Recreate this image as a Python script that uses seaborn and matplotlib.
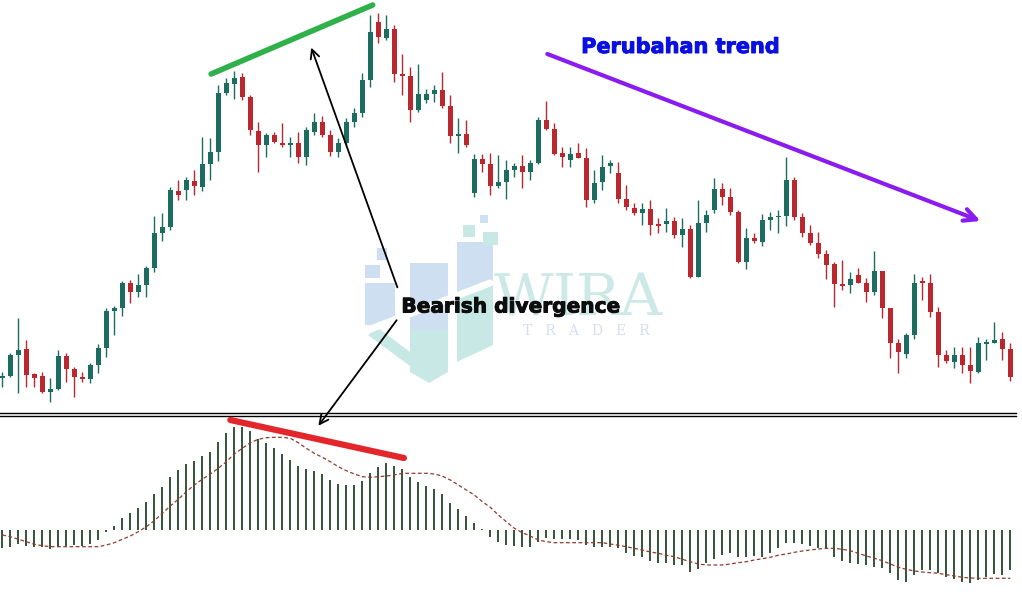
import numpy as np
import pandas as pd
import matplotlib
matplotlib.use("Agg")
import matplotlib.pyplot as plt
import matplotlib.patheffects as pe
import seaborn as sns
from matplotlib.patches import Polygon

# harga (poin) per candle
opens = [42, 44, 65, 71, 46, 44, 28, 31, 64, 51, 43, 41, 55, 72, 109, 112, 137, 128, 135, 152,
         187, 193, 229, 230, 239, 233, 256, 268, 327, 336, 343, 323, 289, 275, 285, 277, 275, 277, 263, 288,
         298, 285, 268, 277, 298, 307, 340, 398, 382, 391, 346, 344, 310, 320, 326, 330, 314, 284, 286, 227,
         261, 256, 234, 238, 250, 254, 248, 257, 300, 291, 267, 260, 267, 262, 220, 238, 254, 247, 221, 212,
         207, 211, 196, 196, 199, 185, 191, 143, 197, 210, 231, 223, 208, 158, 182, 178, 200, 203, 204, 240,
         203, 187, 177, 166, 156, 136, 135, 145, 137, 128, 149, 112, 77, 66, 85, 139, 137, 108, 65, 58,
         65, 55, 48, 76, 77, 81, 71]
highs = [48, 67, 102, 80, 47, 48, 42, 70, 67, 53, 48, 57, 76, 112, 114, 139, 140, 146, 154, 204,
         207, 233, 240, 243, 250, 283, 282, 335, 342, 349, 347, 325, 298, 287, 288, 297, 283, 288, 293, 307,
         304, 290, 282, 302, 312, 347, 405, 407, 405, 395, 366, 353, 356, 331, 335, 348, 325, 302, 300, 266,
         266, 267, 265, 260, 257, 265, 260, 303, 319, 297, 273, 273, 277, 272, 250, 265, 260, 258, 235, 217,
         217, 220, 202, 212, 203, 202, 195, 220, 210, 242, 237, 232, 210, 192, 187, 206, 208, 210, 263, 243,
         207, 195, 188, 170, 158, 160, 148, 152, 142, 169, 149, 112, 81, 87, 146, 143, 146, 113, 70, 73,
         73, 73, 83, 81, 98, 88, 77]
lows = [33, 43, 27, 33, 33, 27, 18, 30, 38, 23, 38, 37, 47, 63, 85, 104, 117, 123, 123, 148,
        179, 190, 220, 220, 225, 229, 240, 259, 325, 321, 320, 285, 248, 263, 277, 273, 263, 257, 255, 285,
        283, 264, 263, 275, 293, 303, 333, 377, 380, 338, 325, 298, 308, 317, 318, 312, 277, 267, 273, 223,
        248, 225, 232, 221, 243, 232, 240, 256, 290, 265, 253, 253, 262, 213, 217, 230, 247, 217, 210, 205,
        195, 185, 187, 188, 182, 173, 142, 143, 188, 207, 215, 205, 157, 151, 177, 174, 190, 187, 194, 200,
        183, 175, 162, 141, 113, 130, 127, 137, 118, 125, 102, 62, 47, 62, 81, 120, 103, 53, 57, 52,
        47, 37, 47, 60, 77, 60, 39]
closes = [44, 65, 70, 45, 42, 28, 31, 64, 51, 43, 41, 55, 72, 109, 112, 137, 128, 135, 152, 187,
          193, 230, 225, 240, 234, 256, 268, 327, 337, 342, 323, 290, 275, 285, 278, 275, 277, 263, 290, 298,
          285, 268, 277, 298, 307, 340, 388, 383, 391, 346, 344, 310, 326, 326, 330, 314, 284, 286, 275, 261,
          256, 234, 238, 250, 254, 248, 257, 300, 291, 266, 263, 266, 262, 220, 237, 253, 257, 221, 213, 207,
          211, 195, 194, 199, 185, 191, 143, 197, 205, 231, 223, 208, 158, 182, 179, 200, 203, 204, 240, 203,
          187, 177, 166, 155, 136, 134, 141, 137, 128, 149, 112, 77, 68, 85, 137, 137, 108, 65, 59, 65,
          55, 49, 77, 78, 80, 71, 43]

# MACD histogram dan garis sinyal
macd_hist = [-18.3, -16.7, -14, -16, -16.7, -16.7, -19.3, -16.7, -16, -15, -16, -14, -10, -1.7, 4, 11.7,
             16.7, 21.7, 28.3, 35.7, 42.7, 52.7, 60, 66, 69.3, 74, 77.7, 88.3, 96.7, 102.7, 103.3, 99,
             91, 86.7, 81.7, 76, 70, 64, 60.7, 59.3, 56, 50, 46, 45, 45, 49, 57.3, 63.3,
             67.3, 64, 60.7, 53.3, 48.3, 44, 40.7, 35.7, 27.3, 20.7, 14, 6.7, 0.7, -6.7, -11.7, -15,
             -16, -17.3, -17.3, -11.7, -8.3, -9.3, -9.3, -9.3, -10, -15, -16.7, -16.7, -16.7, -18.3, -22.7, -26,
             -27.3, -30.7, -32.7, -33.3, -35, -35, -41.7, -39.3, -33.3, -29.3, -25, -23.3, -27.3, -27.3, -26, -26.7,
             -22.7, -18.3, -12.7, -12.7, -14, -16, -18.3, -19.3, -26.7, -30.7, -32.7, -34, -35, -36.7, -38.3, -43.3,
             -50, -51.7, -45, -40, -40, -42.7, -46.7, -49.3, -51.7, -53.3, -50, -46.7, -44, -45, -40]
macd_signal = [-5, -6.7, -9.3, -11.7, -14.3, -15.7, -16.7, -16.7, -16.7, -16.7, -16.7, -16.7, -16.7, -15, -12.7, -9.3,
               -6, -1.7, 3.3, 9.3, 16.7, 24, 30.7, 38.3, 45, 50.7, 56, 61.7, 68.3, 76, 81.7, 87.3,
               90.7, 92.3, 92.7, 92.7, 91.7, 87.3, 81.7, 76.7, 72.7, 68.3, 63.3, 59.3, 56, 53.3, 52.7, 53.3,
               54, 55, 56.7, 56.7, 56.7, 56.7, 56, 54, 50, 45, 40, 35, 28.3, 22.7, 15, 8.3,
               1.7, -2.7, -6, -10, -11.7, -12.7, -12.7, -12.7, -12.7, -12.7, -12.7, -12.7, -14, -15.3, -16.7, -18.3,
               -20, -22, -23.3, -25.3, -26.7, -29.3, -31.7, -34, -35, -35, -35, -34, -32.7, -31.7, -30, -28.7,
               -27.3, -25.3, -24, -22.3, -21, -20, -19, -18.3, -18.3, -19.3, -20.7, -23.3, -26, -28.3, -30.7, -34,
               -37.3, -39.3, -41, -42, -42.7, -43.3, -44.7, -46, -47.3, -48, -48.3, -48.3, -48.3, -48.3, -48.3]

UP = "#1c6d60"
DOWN = "#b8282e"
HIST = "#23472a"
SIG = "#8e3b30"
WM_BLUE = "#cfdff2"
WM_TEAL = "#c8e8e5"

sns.set_theme(style="white")
plt.rcParams["font.family"] = ["DejaVu Sans"]

df = pd.DataFrame({"open": opens, "high": highs, "low": lows, "close": closes})
df["idx"] = np.arange(len(df))
df["color"] = np.where(df["close"] >= df["open"], UP, DOWN)
df["body_low"] = df[["open", "close"]].min(axis=1)
df["body_h"] = (df["close"] - df["open"]).abs().clip(lower=1.5)

W, H = 1022, 602
fig = plt.figure(figsize=(W / 100, H / 100), dpi=100)
ax = fig.add_axes([0, (H - 413) / H, 1016 / W, 413 / H])
axm = fig.add_axes([0, 0, 1016 / W, (H - 415.5) / H])

xlim = (-0.29, -0.29 + 1016 / 8)


def logo_shape(pts, color):
    # watermark: titik dalam piksel gambar -> koordinat data panel atas
    p = np.array(pts, float)
    p[:, 0] = (p[:, 0] - 2.3) / 8
    p[:, 1] = 420 - p[:, 1]
    ax.add_patch(Polygon(p, closed=True, color=color, lw=0, zorder=0))


def box(x0, y0, x1, y1, color):
    logo_shape([(x0, y0), (x1, y0), (x1, y1), (x0, y1)], color)


# watermark logo WIRA TRADER (samar)
box(365, 283, 395, 325, WM_BLUE)
box(365, 265, 380, 278, WM_BLUE)
box(377, 248, 387, 260, WM_BLUE)
box(410, 263, 448, 330, WM_BLUE)
logo_shape([(410, 330), (448, 330), (448, 372), (429, 383), (410, 372)], WM_TEAL)
box(457, 242, 493, 290, WM_BLUE)
logo_shape([(457, 290), (493, 282), (493, 345), (457, 362)], WM_TEAL)
logo_shape([(368, 335), (378, 328), (410, 352), (410, 366)], WM_TEAL)
box(463, 225, 475, 237, WM_TEAL)
box(480, 215, 488, 223, WM_BLUE)
box(483, 232, 498, 245, WM_TEAL)
ax.plot([(368 - 2.3) / 8, (490 - 2.3) / 8], [420 - 330, 420 - 283], color="white", lw=5, zorder=0.5)
ax.text(72.0, 121, "WIRA", fontsize=42, color="#cde9e7", family="DejaVu Serif",
        ha="center", va="center", zorder=0)
ax.text(73.0, 89, "T   R   A   D   E   R", fontsize=10, color="#d3dff0", family="DejaVu Serif",
        ha="center", va="center", zorder=0)

# candle
ax.vlines(df["idx"], df["low"], df["high"], colors=df["color"], lw=1, zorder=2)
ax.bar(df["idx"], df["body_h"], bottom=df["body_low"], width=0.62, color=df["color"], lw=0, zorder=3)
ax.set_xlim(*xlim)
ax.set_ylim(7, 420)

# MACD
axm.vlines(df["idx"], 0, macd_hist, colors=HIST, lw=1.3)
sns.lineplot(x=df["idx"], y=macd_signal, ax=axm, color=SIG, lw=0.9, linestyle=(0, (3, 2)))
axm.set_xlim(*xlim)
axm.set_ylim(-72, 114.5)

for a in (ax, axm):
    a.set_xticks([])
    a.set_yticks([])
    a.set_xlabel("")
    a.set_ylabel("")
    for s in a.spines.values():
        s.set_visible(False)
ax.spines["bottom"].set_visible(True)
ax.spines["bottom"].set_color("black")
ax.spines["bottom"].set_linewidth(1)
axm.spines["top"].set_visible(True)
axm.spines["top"].set_color("black")
axm.spines["top"].set_linewidth(1)

# garis divergensi
ax.plot([26.1, 46.3], [346, 415], color="#2fb04a", lw=4, solid_capstyle="round", zorder=5)
axm.plot([28.5, 50.2], [110, 72], color="#e3262b", lw=4.5, solid_capstyle="round", zorder=5)

# tren turun
ax.annotate("", xy=(122.6, 198), xytext=(67.8, 367),
            arrowprops=dict(arrowstyle="->", color="#8a1cf0", lw=3, mutation_scale=22))
ax.text(84.8, 373, "Perubahan trend", color="#0a10e0", fontsize=15, fontweight="heavy",
        ha="center", va="center",
        path_effects=[pe.withStroke(linewidth=0.7, foreground="#0a10e0")])

ax.text(63.6, 113, "Bearish divergence", color="#0d0d0d", fontsize=14.5, fontweight="heavy",
        ha="center", va="center", zorder=6,
        path_effects=[pe.withStroke(linewidth=0.7, foreground="#0d0d0d")])
ax.annotate("", xy=(38.5, 375), xytext=(49.5, 130),
            arrowprops=dict(arrowstyle="->", color="black", lw=1.3, mutation_scale=16))
axm.annotate("", xy=(39.3, 102), xytext=(49.5, 102), textcoords=ax.transData,
             arrowprops=dict(arrowstyle="->", color="black", lw=1.3, mutation_scale=16))

fig.savefig("out.png", dpi=100, facecolor="white")
